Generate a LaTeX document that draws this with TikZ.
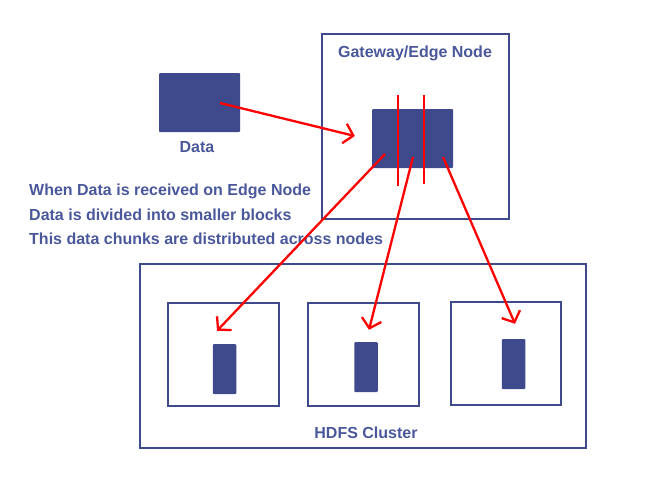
\documentclass[tikz,border=0pt]{standalone}
\usepackage{fontspec}
\setmainfont{Liberation Sans}
\usetikzlibrary{calc}
\usetikzlibrary{arrows.meta}
\definecolor{hdfsblue}{RGB}{62,74,140}
\definecolor{hdfstext}{RGB}{74,88,155}

\begin{document}
\begin{tikzpicture}[x=1pt, y=-1pt,
  frame/.style={draw=hdfsblue, line width=2.8pt, inner sep=0},
  block/.style={fill=hdfsblue, rounded corners=1pt, inner sep=0},
  caption/.style={text=hdfstext, font=\fontsize{16}{18}\selectfont\bfseries, inner sep=0},
  flow/.style={red, line width=2.3pt, -{Straight Barb[length=9pt, width=20pt]}}]
\useasboundingbox (0,0) rectangle (665,482);

% boxes
\node[frame, minimum width=187pt, minimum height=185pt] (gateway) at (415.5,126.5) {};
\node[frame, minimum width=446pt, minimum height=184pt] (cluster) at (363,356) {};
\node[block, minimum width=81pt, minimum height=59pt] (data) at (199.5,102.5) {};
\node[block, minimum width=81pt, minimum height=59pt] (edge) at (412.5,138.5) {};
\foreach \i/\x/\y/\w/\bx/\by in {1/223.5/354.5/111/224.5/369, 2/363.5/354.5/111/366/367, 3/506/353.5/110/513.5/364} {
 \node[frame, minimum width=\w pt, minimum height=103pt] (dn\i) at (\x,\y) {};
 \node[block, minimum width=23.5pt, minimum height=50pt] (blk\i) at (\bx,\by) {};
}

% labels
\node[caption] (gatewaylbl) at (415,53) {Gateway/Edge Node};
\node[caption] (datalbl) at (197,147) {Data};
\node[caption] (clusterlbl) at (366,433) {HDFS Cluster};
\node[caption, anchor=west] (note1) at (29,191) {When Data is received on Edge Node};
\node[caption, anchor=west] (note2) at (29,215) {Data is divided into smaller blocks};
\node[caption, anchor=west] (note3) at (29,238.5) {This data chunks are distributed across nodes};

% splitting
\draw[red, line width=2.3pt] (398,95) -- (398,186);
\draw[red, line width=2.3pt] (424,95) -- (424,184);

% arrows
\coordinate (into) at ($(edge.west)+(-17,-2.5)$);
\coordinate (to1) at ($(blk1.north)+(-7.5,-13)$);
\coordinate (to2) at ($(blk2.north)+(3,-12)$);
\coordinate (to3) at ($(blk3.north)+(1.5,-15)$);
\draw[flow] ($(data.center)+(20.5,0.5)$) -- (into);
\draw[flow] ($(edge.center)+(-27.5,15.5)$) -- (to1);
\draw[flow] ($(edge.center)+(0.5,18.5)$) -- (to2);
\draw[flow] ($(edge.center)+(30.5,18.5)$) -- (to3);
\end{tikzpicture}
\end{document}
